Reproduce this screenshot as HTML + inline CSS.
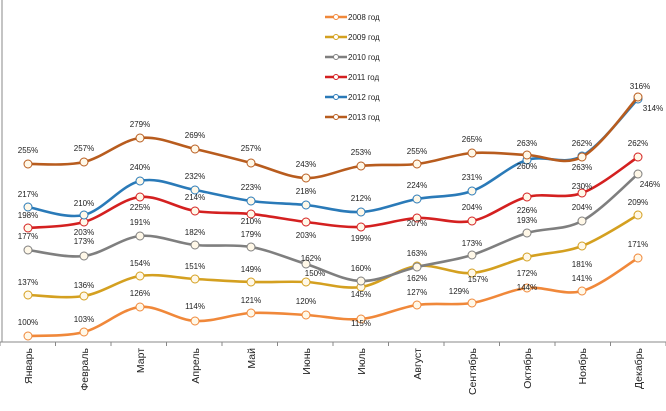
<!DOCTYPE html>
<html><head><meta charset="utf-8"><style>
body{margin:0;background:#fff;width:666px;height:406px;overflow:hidden}
svg text{font-family:"Liberation Sans",sans-serif;font-size:8px;fill:#222}
</style></head><body>
<svg id="s" width="666" height="406" xmlns="http://www.w3.org/2000/svg"></svg>
<script>
var X=[28,84,140,195,251,306,361,417,472,527,582,638];
var S=[
{c:"#f0883a",n:"2008",y:[336,332,307,321,313,315,319,305,303,288,291,258],
 l:[[28,325,"100%"],[84,322,"103%"],[140,296,"126%"],[195,309,"114%"],[251,303,"121%"],[306,304,"120%"],[361,326,"115%"],[417,295,"127%"],[459,294,"129%"],[527,290,"144%"],[582,281,"141%"],[638,247,"171%"]]},
{c:"#d4a020",n:"2009",y:[295,296,276,279,282,282,287,266,273,257,246,215],
 l:[[28,285,"137%"],[84,288,"136%"],[140,266,"154%"],[195,269,"151%"],[251,272,"149%"],[315,276,"150%"],[361,297,"145%"],[417,281,"162%"],[478,282,"157%"],[527,276,"172%"],[582,267,"181%"],[638,205,"209%"]]},
{c:"#7f7f7f",n:"2010",y:[250,256,236,245,247,264,281,267,255,233,221,174],
 l:[[28,239,"177%"],[84,244,"173%"],[140,225,"191%"],[195,235,"182%"],[251,237,"179%"],[311,261,"162%"],[361,271,"160%"],[417,256,"163%"],[472,246,"173%"],[527,223,"193%"],[582,210,"204%"],[650,187,"246%"]]},
{c:"#d42020",n:"2011",y:[228,222,197,211,214,222,227,218,221,197,193,157],
 l:[[28,218,"198%"],[84,235,"203%"],[140,210,"225%"],[195,200,"214%"],[251,224,"210%"],[306,238,"203%"],[361,241,"199%"],[417,226,"207%"],[472,210,"204%"],[527,213,"226%"],[582,189,"230%"],[638,146,"262%"]]},
{c:"#2a7ab8",n:"2012",y:[207,215,181,190,201,205,212,199,191,160,156,99],
 l:[[28,197,"217%"],[84,206,"210%"],[140,170,"240%"],[195,179,"232%"],[251,190,"223%"],[306,194,"218%"],[361,201,"212%"],[417,188,"224%"],[472,180,"231%"],[527,169,"260%"],[582,146,"262%"],[653,111,"314%"]]},
{c:"#b85c1e",n:"2013",y:[164,162,138,149,163,178,166,164,153,155,157,97],
 l:[[28,153,"255%"],[84,151,"257%"],[140,127,"279%"],[195,138,"269%"],[251,151,"257%"],[306,167,"243%"],[361,155,"253%"],[417,154,"255%"],[472,142,"265%"],[527,146,"263%"],[582,170,"263%"],[640,89,"316%"]]}
];
var M=["Январь","Февраль","Март","Апрель","Май","Июнь","Июль","Август","Сентябрь","Октябрь","Ноябрь","Декабрь"];
var h='<line x1="2" y1="0" x2="2" y2="342" stroke="#888"/><line x1="0" y1="342" x2="666" y2="342" stroke="#888"/>';
for(var i=0;i<=12;i++){var tx=i*55.5;h+='<line x1="'+tx+'" y1="342" x2="'+tx+'" y2="346" stroke="#888"/>';}
M.forEach(function(m,i){h+='<text transform="translate('+(X[i]+4)+',348) rotate(-90)" text-anchor="end" style="font-size:10.5px">'+m+'</text>';});
function path(y){var d="M"+X[0]+","+y[0];for(var i=0;i<11;i++){var p0=i?i-1:0,p3=i<10?i+2:11;
var c1x=X[i]+(X[i+1]-X[p0])/6,c1y=y[i]+(y[i+1]-y[p0])/6,c2x=X[i+1]-(X[p3]-X[i])/6,c2y=y[i+1]-(y[p3]-y[i])/6;
d+=" C"+c1x+","+c1y+" "+c2x+","+c2y+" "+X[i+1]+","+y[i+1];}return d;}
S.forEach(function(s,k){h+='<path d="'+path(s.y)+'" fill="none" stroke="'+s.c+'" stroke-width="2.6"/>';
s.y.forEach(function(v,i){h+='<circle cx="'+X[i]+'" cy="'+v+'" r="4" fill="#fff8e8" stroke="'+s.c+'" stroke-width="1"/>';});
s.l.forEach(function(l){h+='<text x="'+l[0]+'" y="'+l[1]+'" text-anchor="middle">'+l[2]+'</text>';});
var ly=17+k*20;h+='<line x1="325" y1="'+ly+'" x2="347" y2="'+ly+'" stroke="'+s.c+'" stroke-width="2.5"/><circle cx="336" cy="'+ly+'" r="2.5" fill="#fff" stroke="'+s.c+'"/><text x="348" y="'+(ly+3)+'">'+s.n+' год</text>';});
document.getElementById("s").innerHTML=h;
</script>
</body></html>
